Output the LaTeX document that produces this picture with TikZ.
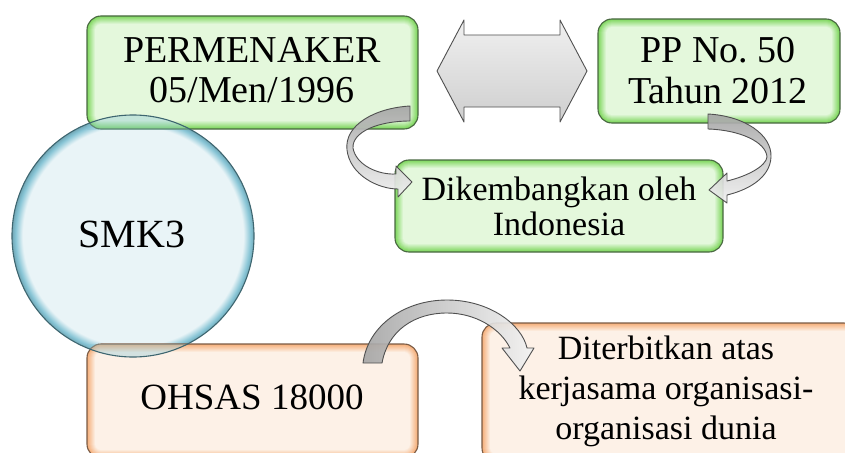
\documentclass[tikz,border=0pt]{standalone}
\usepackage{fontspec}
\setmainfont{Liberation Serif}
\frenchspacing
\definecolor{grim}{HTML}{7DD75C}
\definecolor{gpale}{HTML}{E4F8DC}
\definecolor{gbord}{HTML}{4A6842}
\definecolor{orim}{HTML}{F5AE78}
\definecolor{opale}{HTML}{FDF1E7}
\definecolor{obord}{HTML}{7A5B45}
\definecolor{cpale}{HTML}{E9F4F7}
\definecolor{crim}{HTML}{86C4D5}
\definecolor{cbord}{HTML}{3E6670}
\definecolor{abord}{HTML}{505050}
\pgfdeclareradialshading{ballrim}{\pgfpoint{0bp}{0bp}}{color(0bp)=(cpale); color(22.8bp)=(cpale); color(24.3bp)=(crim); color(25bp)=(crim!85!black); color(50bp)=(crim!85!black)}
\newcommand\glossbox[7]{%
  \foreach \i in {0,...,8}{%
    \pgfmathsetmacro\mixv{100-\i*12.5}%
    \pgfmathsetmacro\rr{14-\i}%
    \fill[color=#5!\mixv!#6, rounded corners=\rr pt] ({#1+\i},{#2+\i}) rectangle ({#3-\i},{#4-\i});
  }%
  \draw[#7, line width=1.1pt, rounded corners=14pt] (#1,#2) rectangle (#3,#4);
}
\tikzset{
  txt/.style={align=center, text=black, inner sep=0pt},
  blockarrow/.style={draw=abord, line width=0.9pt, line join=round, fill opacity=0.92},
}
\begin{document}
\begin{tikzpicture}[x=1pt,y=-1pt]
\useasboundingbox (0,0) rectangle (845,452);
\clip (0,0) rectangle (845,452);
% circle base
\shade[shading=ballrim] (133,236) circle (121);
% boxes
\glossbox{87}{16}{418}{129}{grim}{gpale}{gbord}
\glossbox{598}{19}{840}{123}{grim}{gpale}{gbord}
\glossbox{395}{160}{723}{252}{grim}{gpale}{gbord}
\glossbox{87}{344}{418}{458}{orim}{opale}{obord}
\glossbox{482}{323}{858}{462}{orim}{opale}{obord}
% circle overlay on boxes
\begin{scope}
  \clip (87,16) rectangle (418,129);
  \fill[crim, fill opacity=0.35] (133,236) circle (121);
\end{scope}
\begin{scope}
  \clip (87,344) rectangle (418,458);
  \fill[crim, fill opacity=0.35] (133,236) circle (121);
\end{scope}
\draw[cbord, line width=1.1pt] (133,236) circle (121);
% double arrow
\shade[top color=gray!12, bottom color=gray!38, draw=abord, line width=0.9pt, line join=round]
  (437,71) -- (464,20) -- (464,35) -- (560,35) -- (560,20) -- (587,71)
  -- (560,122) -- (560,107) -- (464,107) -- (464,122) -- cycle;
% curved arrow 1 (PERMENAKER -> Dikembangkan)
\shade[blockarrow, top color=gray!70, bottom color=gray!12]
  (410,106) .. controls (375,108) and (344,125) .. (347,150)
  .. controls (350,175) and (378,189) .. (398,189)
  -- (398,197) -- (412,182) -- (396,166) -- (396,174)
  .. controls (378,175) and (356,165) .. (353,148)
  .. controls (352,132) and (378,121) .. (410,121) -- cycle;
% curved arrow 2 (PP -> Dikembangkan)
\shade[blockarrow, top color=gray!70, bottom color=gray!12]
  (708,114) .. controls (745,116) and (772,135) .. (771,157)
  .. controls (770,178) and (748,190) .. (727,195)
  -- (727,203) -- (709,190) -- (727,173) -- (727,181)
  .. controls (748,176) and (766,166) .. (767,157)
  .. controls (766,142) and (740,130) .. (708,129) -- cycle;
% curved arrow 3 (OHSAS -> Diterbitkan)
\shade[blockarrow, left color=gray!70, right color=gray!10]
  (363,363) .. controls (368,325) and (405,300) .. (447,300)
  .. controls (490,300) and (522,325) .. (527,348)
  -- (534,348) -- (520,371) -- (502,348) -- (510,348)
  .. controls (500,328) and (475,313) .. (447,313)
  .. controls (415,313) and (388,330) .. (382,363) -- cycle;
% texts
\node[txt, font=\fontsize{38}{40}\selectfont] (perm) at (252,70) {PERMENAKER\\05/Men/1996};
\node[txt, font=\fontsize{38}{41}\selectfont] (pp) at (718,71) {PP No. 50\\Tahun 2012};
\node[txt, font=\fontsize{34}{35}\selectfont] (dik) at (559,206) {Dikembangkan oleh\\Indonesia};
\node[txt, font=\fontsize{40}{40}\selectfont] (smk) at (132,234) {SMK3};
\node[txt, font=\fontsize{37}{40}\selectfont] (ohsas) at (252,397) {OHSAS 18000};
\node[txt, font=\fontsize{34}{40}\selectfont] (dit) at (666,391) {Diterbitkan atas\\kerjasama organisasi-\\organisasi dunia};
\end{tikzpicture}
\end{document}
